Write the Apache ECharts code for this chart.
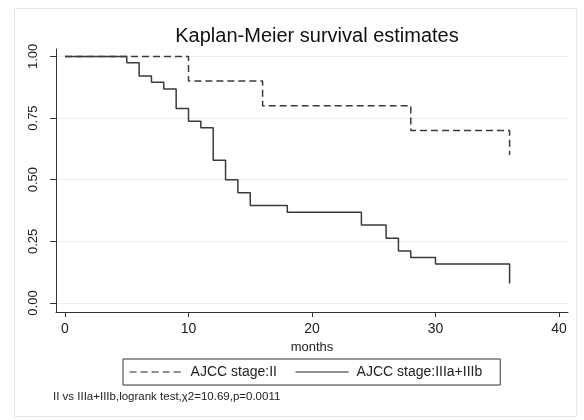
<!DOCTYPE html>
<html>
<head>
<meta charset="utf-8">
<script src="https://cdn.jsdelivr.net/npm/echarts@6/dist/echarts.min.js"></script>
<style>html,body{margin:0;padding:0;background:#fff}#c{width:584px;height:420px}</style>
</head>
<body>
<div id="c"></div>
<script>
const xTicks = [0, 10, 20, 30, 40];
const yTicks = [0, 0.25, 0.5, 0.75, 1];
const stageIITimes = [0, 10, 16, 28, 36];
const stageIIValues = [1, 0.9, 0.8, 0.7, 0.6];
const stageIIITimes = [0, 5, 6, 7, 8, 9, 10, 11, 12, 13, 14, 15, 18, 24, 26, 27, 28, 30, 36];
const stageIIIValues = [1, 0.974, 0.921, 0.895, 0.868, 0.789, 0.737, 0.711, 0.579, 0.5, 0.447, 0.395, 0.368, 0.316, 0.263, 0.211, 0.184, 0.158, 0.079];
const seriesNames = ['AJCC stage:II', 'AJCC stage:IIIa+IIIb'];
const titleText = 'Kaplan-Meier survival estimates';
const xName = 'months';
const footnote = 'II vs IIIa+IIIb,logrank test,\u03c72=10.69,p=0.0011';

const font = 'Liberation Sans, Arial, sans-serif';
const lineColor = '#3a3a3a';
const chart = echarts.init(document.getElementById('c'), null, {renderer: 'canvas'});
chart.setOption({
  backgroundColor: '#fff',
  animation: false,
  graphic: [
    {type: 'rect', z: -10, shape: {x: 14.5, y: 8.5, width: 562, height: 408}, style: {fill: '#fff', stroke: '#e6e6e6', lineWidth: 1}},
    {type: 'text', left: 53, top: 391, style: {text: footnote, font: '11.5px ' + font, fill: '#222'}}
  ],
  title: {
    text: titleText, left: 312, top: 21, textAlign: 'center',
    textStyle: {fontFamily: font, fontSize: 20, fontWeight: 'normal', color: '#111'}
  },
  legend: {
    left: 123, top: 359,
    padding: [6, 18, 6, 6],
    itemGap: 18,
    itemWidth: 53, itemHeight: 14,
    borderColor: '#333', borderWidth: 1,
    itemStyle: {opacity: 0},
    lineStyle: {width: 1.2, color: '#222', opacity: 1},
    textStyle: {fontFamily: font, fontSize: 14, color: '#222', padding: [0, 0, 0, 3]},
    data: seriesNames
  },
  grid: {left: 56, right: 16, top: 49, bottom: 108, containLabel: false},
  xAxis: {
    type: 'value', min: -0.73, max: 40.73,
    name: xName, nameLocation: 'middle', nameGap: 23,
    nameTextStyle: {fontFamily: font, fontSize: 13, color: '#222'},
    axisLine: {show: true, onZero: false, lineStyle: {color: '#333', width: 1}},
    axisTick: {show: true, length: 5, customValues: xTicks, lineStyle: {color: '#333'}},
    axisLabel: {customValues: xTicks, fontFamily: font, fontSize: 14, color: '#222', margin: 10},
    splitLine: {show: false}
  },
  yAxis: {
    type: 'value', min: -0.0365, max: 1.03,
    axisLine: {show: true, onZero: false, lineStyle: {color: '#333', width: 1}},
    axisTick: {show: true, length: 6, customValues: yTicks, lineStyle: {color: '#333'}},
    axisLabel: {customValues: yTicks, rotate: 90, fontFamily: font, fontSize: 13, color: '#222', margin: 16,
      formatter: v => v.toFixed(2)},
    splitLine: {show: true, lineStyle: {color: '#ececec', width: 1}}
  },
  series: [
    {
      name: seriesNames[0], type: 'line', step: 'end', symbol: 'none',
      data: stageIITimes.map((t, i) => [t, stageIIValues[i]]),
      lineStyle: {color: lineColor, width: 1.5, type: [7, 4]},
      itemStyle: {color: lineColor}, z: 2
    },
    {
      name: seriesNames[1], type: 'line', step: 'end', symbol: 'none',
      data: stageIIITimes.map((t, i) => [t, stageIIIValues[i]]),
      lineStyle: {color: lineColor, width: 1.5, type: 'solid'},
      itemStyle: {color: lineColor}, z: 3
    }
  ]
});
</script>
</body>
</html>
